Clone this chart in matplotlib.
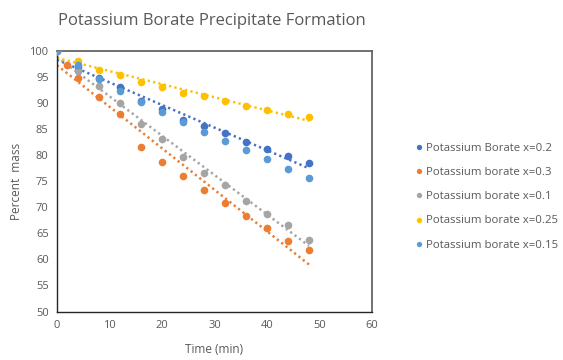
#!/usr/bin/env python3
"""Percent mass vs time for potassium borate precipitates, with linear trendlines."""

import matplotlib.pyplot as plt
import numpy as np

plt.rcParams["font.family"] = ["Open Sans", "DejaVu Sans"]

TEXT_COLOR = "#595959"

# Measurements: time (min) and percent mass for each composition
time_02 = [0, 4, 8, 12, 16, 20, 24, 28, 32, 36, 40, 44, 48]
mass_02 = [100, 97.0, 94.9, 93.0, 90.4, 88.8, 86.7, 85.6, 84.2, 82.6, 81.2, 79.9, 78.5]

time_03 = [0, 2, 4, 8, 12, 16, 20, 24, 28, 32, 36, 40, 44, 48]
mass_03 = [100, 97.3, 94.9, 91.2, 87.9, 81.6, 78.7, 76.0, 73.4, 70.9, 68.3, 66.1, 63.5, 61.9]

time_01 = [0, 4, 8, 12, 16, 20, 24, 28, 32, 36, 40, 44, 48]
mass_01 = [100, 96.2, 93.3, 90.1, 85.9, 83.2, 79.7, 76.5, 74.2, 71.2, 68.7, 66.7, 63.8]

time_025 = [0, 4, 8, 12, 16, 20, 24, 28, 32, 36, 40, 44, 48]
mass_025 = [100, 98.1, 96.3, 95.3, 94.1, 93.1, 92.0, 91.3, 90.4, 89.5, 88.7, 88.0, 87.4]

time_015 = [0, 4, 8, 12, 16, 20, 24, 28, 32, 36, 40, 44, 48]
mass_015 = [100, 97.3, 94.6, 92.4, 90.3, 88.3, 86.3, 84.4, 82.8, 81.0, 79.2, 77.4, 75.7]

# (label, times, masses, colour, draw trendline)
series = [
    ("Potassium Borate x=0.2", time_02, mass_02, "#4472C4", True),
    ("Potassium borate x=0.3", time_03, mass_03, "#ED7D31", True),
    ("Potassium borate x=0.1", time_01, mass_01, "#A5A5A5", True),
    ("Potassium borate x=0.25", time_025, mass_025, "#FFC000", True),
    ("Potassium borate x=0.15", time_015, mass_015, "#5B9BD5", False),
]


def plot_precipitation() -> None:
    fig = plt.figure(figsize=(5.63, 3.6), dpi=100)
    ax = fig.add_axes([0.1012, 0.1347, 0.5595, 0.7236])

    # Linear trendlines first, then the markers on top
    for label, t, m, color, trend in series:
        if not trend:
            continue
        t = np.asarray(t, dtype=float)
        slope, intercept = np.polyfit(t, m, 1)
        tt = np.array([0, t.max()])
        ax.plot(tt, slope * tt + intercept, color=color, linewidth=1.8,
                linestyle=(0, (0.9, 1.3)), zorder=2)

    for label, t, m, color, trend in series:
        ax.plot(t, m, "o", color=color, markersize=5.5, markeredgewidth=0,
                label=label, zorder=3)

    ax.set_xlim(0, 60)
    ax.set_ylim(50, 100)
    ax.set_xticks(range(0, 61, 10))
    ax.set_yticks(range(50, 101, 5))
    ax.tick_params(length=0, labelsize=8, colors=TEXT_COLOR, pad=6)
    for side in ["left", "bottom"]:
        ax.spines[side].set_color("#262626")
        ax.spines[side].set_linewidth(1.0)
    for side in ["top", "right"]:
        ax.spines[side].set_color("#595959")
        ax.spines[side].set_linewidth(1.2)

    ax.set_xlabel("Time (min)", fontsize=8.5, color=TEXT_COLOR, labelpad=9)
    ax.set_ylabel("Percent  mass", fontsize=8.5, color=TEXT_COLOR, labelpad=5)
    fig.text(0.377, 0.943, "Potassium Borate Precipitate Formation",
             fontsize=12, color=TEXT_COLOR, ha="center", va="center")

    ax.legend(loc="center left", bbox_to_anchor=(1.1, 0.44), frameon=False,
              fontsize=8.2, labelcolor=TEXT_COLOR, handletextpad=0.05,
              handlelength=1.0, markerscale=0.7, labelspacing=1.15)

    fig.savefig("out.png", dpi=100)


if __name__ == "__main__":
    plot_precipitation()
